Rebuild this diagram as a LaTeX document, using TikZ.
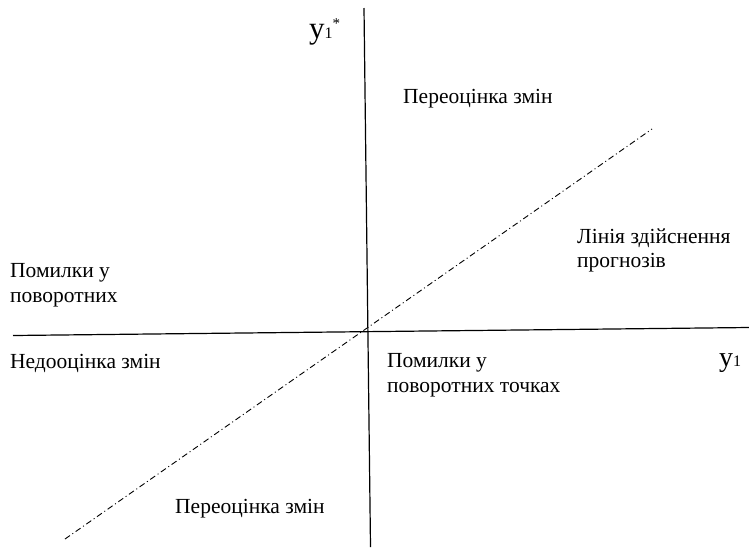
\documentclass[tikz,border=0pt]{standalone}
\usepackage{fontspec}
\setmainfont{Liberation Serif}
\begin{document}
\begin{tikzpicture}[x=1pt,y=-1pt,
  lbl/.style={anchor=base west, inner sep=0pt, font=\fontsize{21.5}{21.5}\selectfont},
  axis/.style={line width=1.2pt, black},
  forecast/.style={line width=0.9pt, black, dash pattern=on 6pt off 3pt on 1pt off 3pt}]
\useasboundingbox (0,0) rectangle (749,547);
% axes
\coordinate (vt) at (364,8);
\coordinate (vb) at (370.5,547);
\coordinate (hl) at (13,335.5);
\coordinate (hr) at (749,327.5);
\coordinate (fl) at (65,539);
\coordinate (fr) at (652,129);
\draw[axis] (vt) -- (vb);
\draw[axis] (hl) -- (hr);
\draw[forecast] (fl) -- (fr);
% axis labels
\node[anchor=base west, inner sep=0pt] (ystar) at (309,38)
  {\fontsize{31}{31}\selectfont y\fontsize{16}{16}\selectfont 1\raisebox{9.5pt}{\fontsize{15}{15}\selectfont *}};
\node[anchor=base west, inner sep=0pt] (yone) at (719,366)
  {\fontsize{28}{28}\selectfont y\fontsize{16}{16}\selectfont 1};
% region labels
\node[lbl] (t1) at (403,103) {Переоцінка змін};
\node[lbl] (t2a) at (577,243) {Лінія здійснення};
\node[lbl] (t2b) at (577,267) {прогнозів};
\node[lbl] (t3a) at (10,277) {Помилки у};
\node[lbl] (t3b) at (10,302) {поворотних};
\node[lbl] (t4) at (10,368) {Недооцінка змін};
\node[lbl] (t5a) at (387,367) {Помилки у};
\node[lbl] (t5b) at (387,392) {поворотних точках};
\node[lbl] (t6) at (175,513) {Переоцінка змін};
\end{tikzpicture}
\end{document}
